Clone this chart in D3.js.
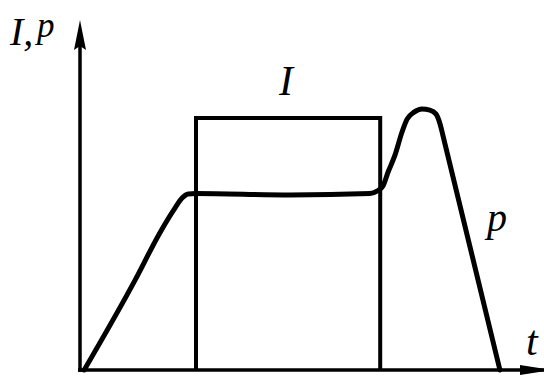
<!DOCTYPE html>
<html>
<head>
<meta charset="utf-8">
<script src="https://cdn.jsdelivr.net/npm/d3@7"></script>
<style>
  html, body { margin: 0; padding: 0; background: #fff; }
  svg { display: block; }
  .lbl { font-family: "Liberation Serif", "DejaVu Serif", serif; font-style: italic; fill: #000; }
</style>
</head>
<body>
<svg id="chart" width="544" height="376"></svg>
<script>
// Time axis samples and pressure curve p(t), in relative units (0..100)
const pT = [0.9, 11.9, 17.2, 20.5, 22.0, 23.3, 25.0, 45.3, 62.5, 64.0, 65.3, 66.4, 67.9, 69.4, 70.5, 72.0, 73.7, 75.4, 76.7, 77.6, 78.2, 90.5];
const pV = [0,   25.9, 39.4, 46.6, 49.4, 50.6, 50.7, 50.3, 50.7, 51.4, 52.9, 56.9, 61.8, 68.4, 72.1, 74.1, 75.0, 74.7, 73.6, 70.7, 67.5, 0];

// Current pulse I(t): switched on, held, switched off
const iT = [25.0, 25.0, 64.7, 64.7];
const iV = [0,    72.4, 72.4, 0];

// Axis and curve labels
const axisYLabel = ["I,", "p"];
const axisXLabel = "t";
const curveLabels = { I: "I", p: "p" };

const W = 544, H = 376;
const svg = d3.select("#chart");

const x = d3.scaleLinear().domain([0, 100]).range([80, 544]);
const y = d3.scaleLinear().domain([0, 100]).range([370, 22]);

// axes without ticks, as bare arrows
const xAxis = d3.axisBottom(x).tickValues([]).tickSizeOuter(0);
const yAxis = d3.axisLeft(y).tickValues([]).tickSizeOuter(0);

svg.append("g").attr("transform", `translate(0,${y(0)})`).call(xAxis)
  .select(".domain").attr("stroke", "#000").attr("stroke-width", 3.5)
  .attr("d", `M${x(0) - 2},0H${W}`);
svg.append("g").attr("transform", `translate(${x(0)},0)`).call(yAxis)
  .select(".domain").attr("stroke", "#000").attr("stroke-width", 3.5)
  .attr("d", `M0,${y(0) + 2}V${y(100) + 10}`);

// arrow heads
svg.append("path")
  .attr("d", `M${x(0)},${y(100) - 2}L${x(0) - 6},${y(100) + 28}L${x(0)},${y(100) + 24}L${x(0) + 6},${y(100) + 28}Z`)
  .attr("fill", "#000");
svg.append("path")
  .attr("d", `M${W + 8},${y(0)}L${W - 24},${y(0) - 5}L${W - 24},${y(0) + 5}Z`)
  .attr("fill", "#000");

// current pulse
const iLine = d3.line().x((d, i) => x(iT[i])).y((d, i) => y(iV[i])).curve(d3.curveLinear);
svg.append("path")
  .attr("d", iLine(iT))
  .attr("fill", "none").attr("stroke", "#000").attr("stroke-width", 4)
  .attr("stroke-linejoin", "miter");

// pressure curve
const pLine = d3.line().x((d, i) => x(pT[i])).y((d, i) => y(pV[i])).curve(d3.curveMonotoneX);
svg.append("path")
  .attr("d", pLine(pT))
  .attr("fill", "none").attr("stroke", "#000").attr("stroke-width", 5)
  .attr("stroke-linejoin", "round").attr("stroke-linecap", "round");

// labels
svg.append("text").attr("class", "lbl").attr("x", 10).attr("y", 45).attr("font-size", 40).text(axisYLabel[0]);
svg.append("text").attr("class", "lbl").attr("x", 37).attr("y", 37).attr("font-size", 35).text(axisYLabel[1]);
svg.append("text").attr("class", "lbl").attr("x", 526).attr("y", 355).attr("font-size", 42).text(axisXLabel);
svg.append("text").attr("class", "lbl").attr("x", 279).attr("y", 95).attr("font-size", 42).text(curveLabels.I);
svg.append("text").attr("class", "lbl").attr("x", 487).attr("y", 231).attr("font-size", 40).text(curveLabels.p);
</script>
</body>
</html>
